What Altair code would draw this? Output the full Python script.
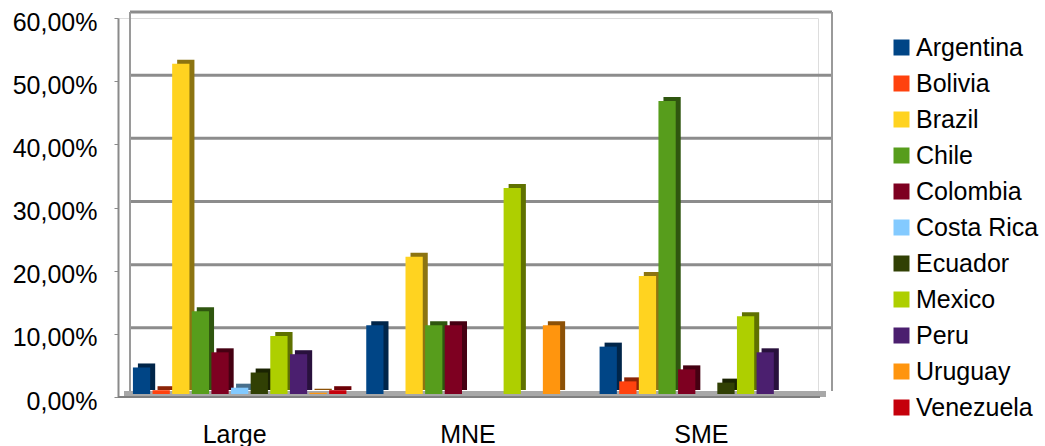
import altair as alt
import pandas as pd

categories = ["Large", "MNE", "SME"]
countries = ["Argentina", "Bolivia", "Brazil", "Chile", "Colombia", "Costa Rica",
             "Ecuador", "Mexico", "Peru", "Uruguay", "Venezuela"]
colors = ["#004586", "#ff420e", "#ffd320", "#579d1c", "#7e0021", "#83caff",
          "#314004", "#aecf00", "#4b1f6f", "#ff950e", "#c5000b"]
large = [4.2, 0.6, 52.3, 13.1, 6.6, 1.0, 3.4, 9.2, 6.3, 0.2, 0.6]
mne = [10.87, 0, 21.74, 10.87, 10.87, 0, 0, 32.61, 0, 10.87, 0]
sme = [7.5, 2.0, 18.7, 46.4, 3.9, 0, 1.8, 12.3, 6.6, 0, 0]
y_ticks = [0, 0.1, 0.2, 0.3, 0.4, 0.5, 0.6]
grid_values = [0.1, 0.2, 0.3, 0.4, 0.5, 0.6]


def darken(h, f=0.55):
    r, g, b = int(h[1:3], 16), int(h[3:5], 16), int(h[5:7], 16)
    return "#%02x%02x%02x" % (int(r * f), int(g * f), int(b * f))


rows = []
for cat, vals in zip(categories, [large, mne, sme]):
    for c, col, v in zip(countries, colors, vals):
        rows.append({"category": cat, "country": c, "value": v / 100.0,
                     "dark": darken(col)})
df = pd.DataFrame(rows)
grid_df = pd.DataFrame({"value": grid_values})

FONT = "Liberation Sans"
W, H = 700, 379
P_IN = 0.085
BW = W / 3 * (1 - P_IN)

x_enc = alt.X("category:N", sort=categories,
              scale=alt.Scale(paddingInner=P_IN, paddingOuter=P_IN / 2),
              axis=alt.Axis(title=None, labelAngle=0, labelFontSize=25, labelFont=FONT,
                            labelColor="black", labelPadding=25, ticks=False, domain=False))
y_scale = alt.Scale(domain=[0, 0.6], nice=False, zero=True)
y_enc = alt.Y("value:Q", scale=y_scale,
              axis=alt.Axis(values=y_ticks, title=None, grid=False,
                            labelExpr="replace(format(datum.value, '.2%'), '.', ',')",
                            labelFontSize=25, labelFont=FONT, labelColor="black",
                            tickSize=4, labelPadding=17, domainColor="#8a8a8a",
                            domainWidth=2, tickColor="#8a8a8a", labelOffset=4))

floor = alt.Chart(grid_df).mark_rule(color="#a8a8a8", strokeWidth=6, yOffset=-3).encode(
    y=alt.datum(0, scale=y_scale), x=alt.value(6), x2=alt.value(708))
front_edge = alt.Chart(grid_df).mark_rule(color="#808080", strokeWidth=1.5).encode(
    y=alt.datum(0, scale=y_scale), x=alt.value(0), x2=alt.value(702))
grid = alt.Chart(grid_df).mark_rule(color="#8c8c8c", strokeWidth=3, yOffset=-6).encode(
    y=alt.Y("value:Q", scale=y_scale), x=alt.value(12), x2=alt.value(714))
back_left = alt.Chart(grid_df).mark_rule(color="#9a9a9a", strokeWidth=2, yOffset=-6, y2Offset=-6).encode(
    x=alt.value(12), y=alt.datum(0.6, scale=y_scale), y2=alt.datum(0))
back_right = alt.Chart(grid_df).mark_rule(color="#9a9a9a", strokeWidth=2, yOffset=-6, y2Offset=-6).encode(
    x=alt.value(714), y=alt.datum(0.6, scale=y_scale), y2=alt.datum(0))

side = alt.Chart(df).mark_bar(yOffset=-7, y2Offset=-7).encode(
    x=x_enc,
    xOffset=alt.XOffset("country:N", sort=countries,
                        scale=alt.Scale(paddingInner=0.12, range=[10, 10 + BW])),
    y=y_enc, color=alt.Color("dark:N", scale=None))
face = alt.Chart(df).mark_bar(yOffset=-3, y2Offset=-3).encode(
    x=x_enc,
    xOffset=alt.XOffset("country:N", sort=countries,
                        scale=alt.Scale(paddingInner=0.12, range=[5, 5 + BW])),
    y=y_enc,
    color=alt.Color("country:N", sort=countries,
                    scale=alt.Scale(domain=countries, range=colors),
                    legend=alt.Legend(title=None, orient="none", legendX=771, legendY=17,
                                      labelFontSize=25, labelFont=FONT, labelColor="black",
                                      symbolType="square", symbolSize=256,
                                      symbolStrokeWidth=0, rowPadding=10, labelOffset=2)))

bars = alt.layer(side, face).resolve_scale(xOffset="independent", color="independent")

chart = alt.layer(floor, grid, back_left, back_right, bars, front_edge).properties(
    width=W, height=H,
    autosize=alt.AutoSizeParams(type="none"),
    padding={"left": 118, "top": 18, "right": 227, "bottom": 49},
).configure_view(stroke=None).configure(font=FONT)

chart.save("out.html", embed_options={"renderer": "svg", "actions": False})
